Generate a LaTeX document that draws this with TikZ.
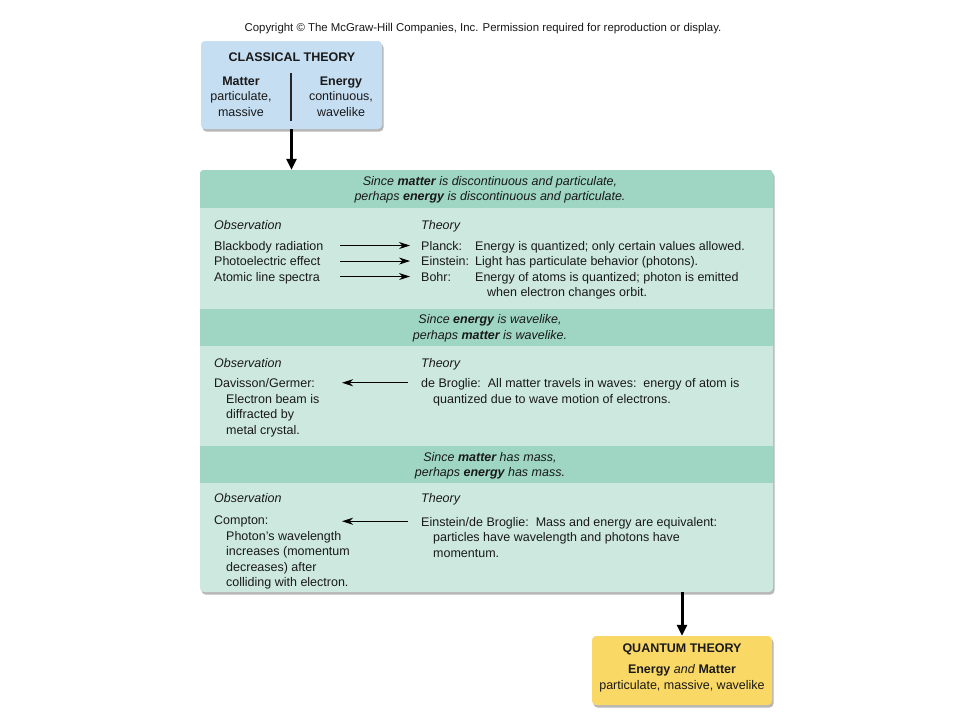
\documentclass[tikz,border=0pt]{standalone}
\usepackage{fontspec}
\setmainfont{Liberation Sans}
\usepackage{tikz}
\usetikzlibrary{arrows.meta}
\usetikzlibrary{positioning}
\usetikzlibrary{shadows}
\definecolor{classicalblue}{RGB}{198,222,242}
\definecolor{quantumyellow}{RGB}{250,216,102}
\definecolor{bodygreen}{RGB}{205,233,223}
\definecolor{bandgreen}{RGB}{158,214,195}
\tikzset{
  soft_shadow/.style = {drop shadow={shadow xshift=1.5pt, shadow yshift=-2.5pt,
    opacity=0.4, fill=black!70}},
  classical_box/.style = {rectangle, rounded corners=4pt, fill=classicalblue,
    minimum width=181pt, minimum height=88pt, soft_shadow},
  quantum_box/.style = {rectangle, rounded corners=4pt, fill=quantumyellow,
    minimum width=180pt, minimum height=69pt, soft_shadow},
  main_box/.style = {rectangle, rounded corners=4pt, fill=bodygreen,
    minimum width=573pt, minimum height=422pt, soft_shadow},
  band_box/.style = {rectangle, fill=bandgreen, inner sep=0pt,
    minimum width=573pt},
  plain_text/.style = {font=\fontsize{12.5}{15.5}\selectfont, inner sep=0pt,
    text=black!90},
  left_text/.style = {plain_text, anchor=base west, align=left},
  centre_text/.style = {plain_text, anchor=base, align=center},
  band_text/.style = {centre_text, font=\fontsize{12.5}{15.5}\selectfont\itshape},
  head_text/.style = {left_text, font=\fontsize{12.5}{15.5}\selectfont\itshape},
  title_text/.style = {centre_text, font=\fontsize{12.5}{15.5}\selectfont\bfseries},
  big_arrow/.style = {line width=3pt, -{Triangle[length=11pt, width=10pt]}},
  small_arrow/.style = {line width=0.9pt, -{Stealth[length=11pt, width=7pt, inset=3.5pt]}}
}
\begin{document}
\begin{tikzpicture}[x=1pt, y=-1pt]
  \fill[white] (0,0) rectangle (960,720);
  \useasboundingbox (0,0) rectangle (960,720);

  \node[plain_text, font=\fontsize{11.4}{13}\selectfont, anchor=base] (copyright) at (483,31.5)
    {Copyright © The McGraw-Hill Companies, Inc. Permission required for reproduction or display.};

  % classical theory (multi-line nodes sit on their last line)
  \node[classical_box] (classical) at (291.5,85) {};
  \node[title_text] (classical_title) at (292,61.5) {CLASSICAL THEORY};
  \node[centre_text] (matter) at (241,116) {\textbf{Matter}\\particulate,\\massive};
  \node[centre_text] (energy) at (341,116) {\textbf{Energy}\\continuous,\\wavelike};
  \draw[line width=1.4pt, black!85] (291,73) -- (291,121);

  % main box with bands
  \node[main_box] (main) at (486.5,381) {};
  \begin{scope}
    \clip[rounded corners=4pt] (main.north west) rectangle (main.south east);
    \node[band_box, minimum height=38pt] (band_one) at (486.5,189) {};
    \node[band_box, minimum height=37pt] (band_two) at (486.5,327.5) {};
    \node[band_box, minimum height=37pt] (band_three) at (486.5,464.5) {};
  \end{scope}
  \draw[big_arrow] (classical.south) -- (classical.south |- main.north);

  % first part
  \node[band_text] (since_one) at (490,200.5)
    {Since \textbf{matter} is discontinuous and particulate,\\
     perhaps \textbf{energy} is discontinuous and particulate.};
  \node[head_text] (obs_one) at (214,229) {Observation};
  \node[head_text] (theory_one) at (421,229) {Theory};
  \node[left_text] (blackbody) at (214,250) {Blackbody radiation};
  \node[left_text] (photoelectric) at (214,265.5) {Photoelectric effect};
  \node[left_text] (spectra) at (214,281) {Atomic line spectra};
  \node[left_text] (planck) at (421,250) {Planck:};
  \node[left_text] (einstein) at (421,265.5) {Einstein:};
  \node[left_text] (bohr) at (421,281) {Bohr:};
  \node[left_text] (planck_text) at (475,250) {Energy is quantized; only certain values allowed.};
  \node[left_text] (einstein_text) at (475,265.5) {Light has particulate behavior (photons).};
  \node[left_text] (bohr_text) at (475,296.5)
    {Energy of atoms is quantized; photon is emitted\\\hspace*{12pt}when electron changes orbit.};
  \coordinate (obs_end) at (340,0);
  \coordinate (theory_end) at (410,0);
  \draw[small_arrow] (obs_end |- planck.west) -- (theory_end |- planck.west);
  \draw[small_arrow] (obs_end |- einstein.west) -- (theory_end |- einstein.west);
  \draw[small_arrow] (obs_end |- bohr.west) -- (theory_end |- bohr.west);

  % second part
  \node[band_text] (since_two) at (490,339)
    {Since \textbf{energy} is wavelike,\\perhaps \textbf{matter} is wavelike.};
  \node[head_text] (obs_two) at (214,367) {Observation};
  \node[head_text] (theory_two) at (421,367) {Theory};
  \node[left_text] (davisson) at (214,434)
    {Davisson/Germer:\\\hspace*{12pt}Electron beam is\\\hspace*{12pt}diffracted by\\\hspace*{12pt}metal crystal.};
  \node[left_text] (broglie) at (421,403)
    {de Broglie:\ \ All matter travels in waves:\ \ energy of atom is\\\hspace*{12pt}quantized due to wave motion of electrons.};
  \coordinate (obs_two_end) at (342,0);
  \coordinate (theory_two_end) at (408,0);
  \draw[small_arrow] ([yshift=-4.5pt]broglie.north -| theory_two_end)
    -- ([yshift=-4.5pt]broglie.north -| obs_two_end);

  % third part
  \node[band_text] (since_three) at (490,476.5)
    {Since \textbf{matter} has mass,\\perhaps \textbf{energy} has mass.};
  \node[head_text] (obs_three) at (214,502) {Observation};
  \node[head_text] (theory_three) at (421,502) {Theory};
  \node[left_text] (compton) at (214,586.5)
    {Compton:\\\hspace*{12pt}Photon’s wavelength\\\hspace*{12pt}increases (momentum\\\hspace*{12pt}decreases) after\\\hspace*{12pt}colliding with electron.};
  \node[left_text] (mass_energy) at (421,557)
    {Einstein/de Broglie:\ \ Mass and energy are equivalent:\\\hspace*{12pt}particles have wavelength and photons have\\\hspace*{12pt}momentum.};
  \draw[small_arrow] ([yshift=-4.5pt]mass_energy.north -| theory_two_end)
    -- ([yshift=-4.5pt]mass_energy.north -| obs_two_end);

  % quantum theory
  \node[quantum_box] (quantum) at (682,670.5) {};
  \draw[big_arrow] (quantum.north |- main.south) -- (quantum.north);
  \node[title_text] (quantum_title) at (682,652.5) {QUANTUM THEORY};
  \node[centre_text] (quantum_text) at (682,689)
    {\textbf{Energy} \textit{and} \textbf{Matter}\\particulate, massive, wavelike};
\end{tikzpicture}
\end{document}
